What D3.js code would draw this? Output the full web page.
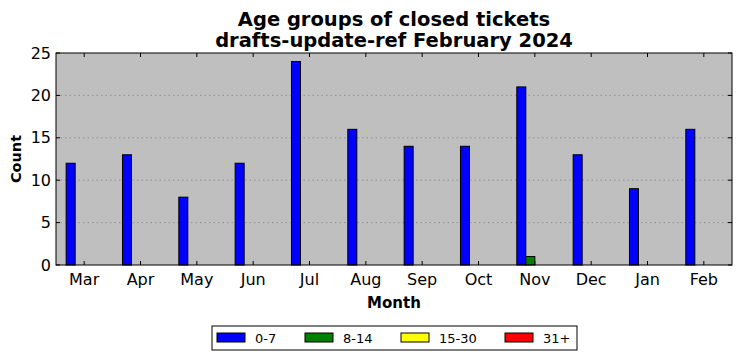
<!DOCTYPE html>
<html>
<head>
<meta charset="utf-8">
<script src="https://cdn.jsdelivr.net/npm/d3@7"></script>
<style>
  body { margin: 0; background: #fff; }
  svg { font-family: "DejaVu Sans", sans-serif; }
</style>
</head>
<body>
<svg id="chart" width="742" height="361"></svg>
<script>
//------------------------------------------------------------
// Data
const months = ["Mar", "Apr", "May", "Jun", "Jul", "Aug", "Sep", "Oct", "Nov", "Dec", "Jan", "Feb"];
const ageGroups = ["0-7", "8-14", "15-30", "31+"];
const colors = ["#0000ff", "#008000", "#ffff00", "#ff0000"];
const counts0to7 = [12, 13, 8, 12, 24, 16, 14, 14, 21, 13, 9, 16];
const counts8to14 = [0, 0, 0, 0, 0, 0, 0, 0, 1, 0, 0, 0];
const counts15to30 = [0, 0, 0, 0, 0, 0, 0, 0, 0, 0, 0, 0];
const counts31plus = [0, 0, 0, 0, 0, 0, 0, 0, 0, 0, 0, 0];
const yTicks = [0, 5, 10, 15, 20, 25];

const series = [counts0to7, counts8to14, counts15to30, counts31plus];

//------------------------------------------------------------
// Layout
const plot = { left: 56, right: 732, top: 53, bottom: 265 };
const svg = d3.select("#chart");

const x = d3.scaleLinear().domain([-0.5, 11.5]).range([plot.left, plot.right]);
const y = d3.scaleLinear().domain([0, 25]).range([plot.bottom, plot.top]);
const barW = 0.16;

// plot background
svg.append("rect")
  .attr("x", plot.left).attr("y", plot.top)
  .attr("width", plot.right - plot.left).attr("height", plot.bottom - plot.top)
  .attr("fill", "#bfbfbf");

// grid
svg.append("g").selectAll("line")
  .data(yTicks.slice(1, -1))
  .join("line")
  .attr("x1", plot.left).attr("x2", plot.right)
  .attr("y1", d => y(d)).attr("y2", d => y(d))
  .attr("stroke", "#888").attr("stroke-width", 0.8)
  .attr("stroke-dasharray", "1.5 3");

// bars
series.forEach((vals, s) => {
  svg.append("g").selectAll("rect")
    .data(vals.map((v, i) => ({ i, v })).filter(d => d.v > 0))
    .join("rect")
    .attr("x", d => x(d.i - 2 * barW + s * barW))
    .attr("y", d => y(d.v))
    .attr("width", x(barW) - x(0))
    .attr("height", d => y(0) - y(d.v))
    .attr("fill", colors[s])
    .attr("stroke", "#000")
    .attr("stroke-width", 1);
});

// ticks (inside, all four sides)
const tk = svg.append("g").attr("stroke", "#000").attr("stroke-width", 1);
months.forEach((m, i) => {
  tk.append("line").attr("x1", x(i)).attr("x2", x(i)).attr("y1", plot.bottom).attr("y2", plot.bottom - 4);
  tk.append("line").attr("x1", x(i)).attr("x2", x(i)).attr("y1", plot.top).attr("y2", plot.top + 4);
});
yTicks.forEach(t => {
  tk.append("line").attr("x1", plot.left).attr("x2", plot.left + 4).attr("y1", y(t)).attr("y2", y(t));
  tk.append("line").attr("x1", plot.right).attr("x2", plot.right - 4).attr("y1", y(t)).attr("y2", y(t));
});

// frame
svg.append("rect")
  .attr("x", plot.left).attr("y", plot.top)
  .attr("width", plot.right - plot.left).attr("height", plot.bottom - plot.top)
  .attr("fill", "none").attr("stroke", "#000").attr("stroke-width", 1);

// tick labels
svg.append("g").selectAll("text")
  .data(months)
  .join("text")
  .attr("x", (d, i) => x(i)).attr("y", plot.bottom + 20)
  .attr("text-anchor", "middle")
  .style("font-size", "16px")
  .text(d => d);

svg.append("g").selectAll("text")
  .data(yTicks)
  .join("text")
  .attr("x", plot.left - 5).attr("y", d => y(d) + 5.5)
  .attr("text-anchor", "end")
  .style("font-size", "16px")
  .text(d => d);

// axis labels
svg.append("text")
  .attr("x", (plot.left + plot.right) / 2).attr("y", 308)
  .attr("text-anchor", "middle")
  .style("font-size", "15px").style("font-weight", "bold")
  .text("Month");

svg.append("text")
  .attr("transform", `translate(21,${(plot.top + plot.bottom) / 2}) rotate(-90)`)
  .attr("text-anchor", "middle")
  .style("font-size", "14.5px").style("font-weight", "bold")
  .text("Count");

// title
const title = svg.append("text")
  .attr("text-anchor", "middle")
  .style("font-size", "19.5px").style("font-weight", "bold");
title.append("tspan").attr("x", (plot.left + plot.right) / 2).attr("y", 26).text("Age groups of closed tickets");
title.append("tspan").attr("x", (plot.left + plot.right) / 2).attr("y", 47).text("drafts-update-ref February 2024");

//------------------------------------------------------------
// Legend
const lg = svg.append("g");
lg.append("rect")
  .attr("x", 212).attr("y", 326).attr("width", 365).attr("height", 24)
  .attr("fill", "#fff").attr("stroke", "#000").attr("stroke-width", 1);

const legendX = [217, 305, 401, 505];
ageGroups.forEach((g, i) => {
  lg.append("rect")
    .attr("x", legendX[i]).attr("y", 333)
    .attr("width", 28).attr("height", 9)
    .attr("fill", colors[i]).attr("stroke", "#000").attr("stroke-width", 1);
  lg.append("text")
    .attr("x", legendX[i] + 38).attr("y", 343)
    .style("font-size", "13px")
    .text(g);
});
</script>
</body>
</html>
